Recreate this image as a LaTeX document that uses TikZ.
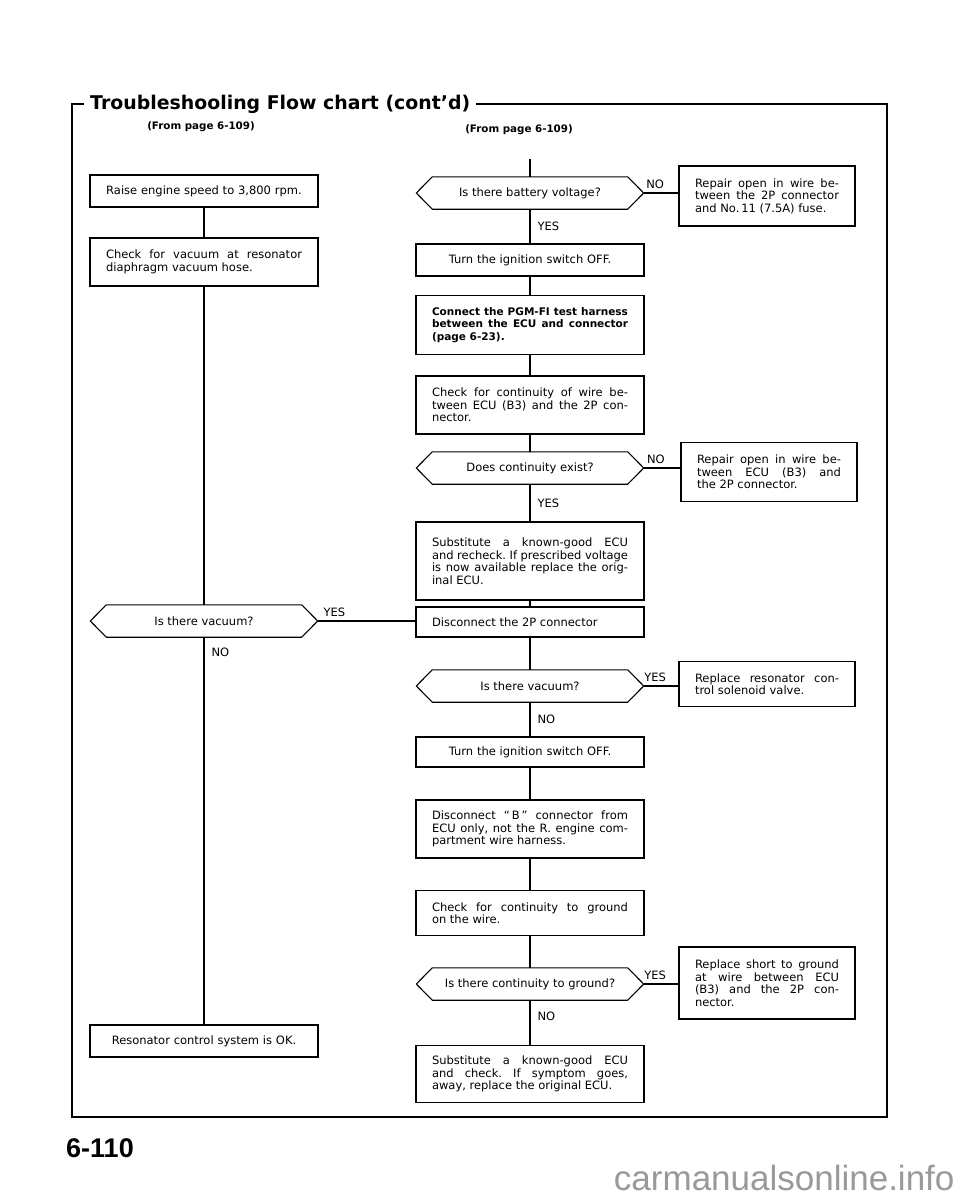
\documentclass[tikz,border=0pt]{standalone}
\usepackage{fontspec}
\setmainfont{DejaVu Sans}
\newfontfamily\pagenofont{Liberation Sans}
\usetikzlibrary{positioning}

\newcommand\flowtext{\fontsize{11.5}{12.5}\selectfont\frenchspacing}

\begin{document}
\begin{tikzpicture}[x=1pt, y=-1pt,
  line/.style={line width=1.1pt},
  box/.style={draw, line width=1.1pt, inner xsep=16pt, inner ysep=2pt,
    text width=196pt, align=justify, font=\flowtext},
  sidebox/.style={box, text width=144pt},
  ask/.style={minimum width=227pt, minimum height=32pt, inner sep=0pt,
    align=center, font=\flowtext},
  lbl/.style={font=\flowtext, inner sep=1pt}]
  \useasboundingbox (0,0) rectangle (960,1200);

  % Title and frame
  \node[anchor=west, inner xsep=6pt, font=\bfseries\fontsize{18.9}{21}\selectfont]
    (title) at (84,104) {Troubleshooling Flow chart (cont'd)};
  \draw[line width=1.5pt] (title.west) -- (72,104) -- (72,1117)
    -- (887,1117) -- (887,104) -- (title.east);
  \node[font=\bfseries\fontsize{10.3}{12}\selectfont] (fromL) at (201,127) {(From page 6-109)};
  \node[font=\bfseries\fontsize{10.3}{12}\selectfont] (fromR) at (519,130) {(From page 6-109)};

  % Left column
  \node[box, align=center, minimum height=32pt] (raise) at (204,191)
    {Raise engine speed to 3,800 rpm.};
  \node[box, minimum height=48pt] (chkvac) at (204,262)
    {Check for vacuum at resonator\linebreak diaphragm vacuum hose.};
  \node[ask] (qvacL) at (204,621) {Is there vacuum?};
  \node[box, align=center, minimum height=32pt] (ok) at (204,1041)
    {Resonator control system is OK.};

  % Right column
  \node[ask] (qbatt) at (530,193) {Is there battery voltage?};
  \node[sidebox, minimum height=60pt] (rep1) at (767,196)
    {Repair open in wire be-\linebreak tween the 2P connector\linebreak and No.\,11 (7.5A) fuse.};
  \node[box, align=center, minimum height=32pt] (turnoff1) at (530,260)
    {Turn the ignition switch OFF.};
  \node[box, font=\bfseries\fontsize{10.5}{12.5}\selectfont, minimum height=59pt] (pgmfi) at (530,325)
    {Connect the PGM-FI test harness\linebreak between the ECU and connector\linebreak (page 6-23).};
  \node[box, minimum height=58pt] (chkwire) at (530,405)
    {Check for continuity of wire be-\linebreak tween ECU (B3) and the 2P con-\linebreak nector.};
  \node[ask] (qcont) at (530,468) {Does continuity exist?};
  \node[sidebox, minimum height=59pt] (rep2) at (769,472)
    {Repair open in wire be-\linebreak tween ECU (B3) and\linebreak the 2P connector.};
  \node[box, minimum height=78pt] (subst1) at (530,561)
    {Substitute a known-good ECU\linebreak and recheck. If prescribed voltage\linebreak is now available replace the orig-\linebreak inal ECU.};
  \node[box, minimum height=30pt] (disc2p) at (530,622) {Disconnect the 2P connector};
  \node[ask] (qvacR) at (530,686) {Is there vacuum?};
  \node[sidebox, minimum height=45pt] (replres) at (767,684)
    {Replace resonator con-\linebreak trol solenoid valve.};
  \node[box, align=center, minimum height=30pt] (turnoff2) at (530,752)
    {Turn the ignition switch OFF.};
  \node[box, minimum height=58pt] (discB) at (530,829)
    {Disconnect ``\,B\,'' connector from\linebreak ECU only, not the R. engine com-\linebreak partment wire harness.};
  \node[box, minimum height=45pt] (chkgnd) at (530,913)
    {Check for continuity to ground\linebreak on the wire.};
  \node[ask] (qgnd) at (530,984) {Is there continuity to ground?};
  \node[sidebox, minimum height=72pt] (replshort) at (767,983)
    {Replace short to ground\linebreak at wire between ECU\linebreak (B3) and the 2P con-\linebreak nector.};
  \node[box, minimum height=57pt] (subst2) at (530,1074)
    {Substitute a known-good ECU\linebreak and check. If symptom goes,\linebreak away, replace the original ECU.};

  % Draw decision outlines
  \foreach \q in {qbatt,qcont,qvacR,qgnd,qvacL}
    \draw[line] (\q.west) -- ([xshift=16pt]\q.north west) -- ([xshift=-16pt]\q.north east)
      -- (\q.east) -- ([xshift=-16pt]\q.south east) -- ([xshift=16pt]\q.south west) -- cycle;

  % Draw plain links
  \foreach \a/\b in {raise/chkvac, chkvac/qvacL, turnoff1/pgmfi, pgmfi/chkwire,
    chkwire/qcont, subst1/disc2p, disc2p/qvacR, turnoff2/discB, discB/chkgnd, chkgnd/qgnd}
    \draw[line] (\a) -- (\b);

  % Draw answers
  \draw[line, shorten <=20pt] (qbatt.north |- fromR.south) -- (qbatt.north);
  \draw[line] (qbatt) -- node[lbl, right=6pt] {YES} (turnoff1);
  \draw[line] (qbatt.east) -- node[lbl, above=3pt, pos=.33] {NO} (qbatt.east -| rep1.west);
  \draw[line] (qcont) -- node[lbl, right=6pt] {YES} (subst1);
  \draw[line] (qcont.east) -- node[lbl, above=3pt, pos=.33] {NO} (qcont.east -| rep2.west);
  \draw[line] (qvacR) -- node[lbl, right=6pt] {NO} (turnoff2);
  \draw[line] (qvacR.east) -- node[lbl, above=3pt, pos=.33] {YES} (qvacR.east -| replres.west);
  \draw[line] (qgnd) -- node[lbl, right=6pt, pos=.35] {NO} (subst2);
  \draw[line] (qgnd.east) -- node[lbl, above=3pt, pos=.33] {YES} (qgnd.east -| replshort.west);
  \draw[line] (qvacL.east) -- node[lbl, above=3pt, pos=.17] {YES} (qvacL.east -| disc2p.west);
  \draw[line] (qvacL) -- node[lbl, right=6pt, pos=.04] {NO} (ok);

  % Page number and mark
  \node[font=\pagenofont\bfseries\fontsize{27}{30}\selectfont] (pageno) at (100,1148) {6-110};
  \node[anchor=east, text=black!40, font=\pagenofont\fontsize{35}{38}\selectfont]
    (mark) at (958,1178) {carmanualsonline.info};
\end{tikzpicture}
\end{document}
